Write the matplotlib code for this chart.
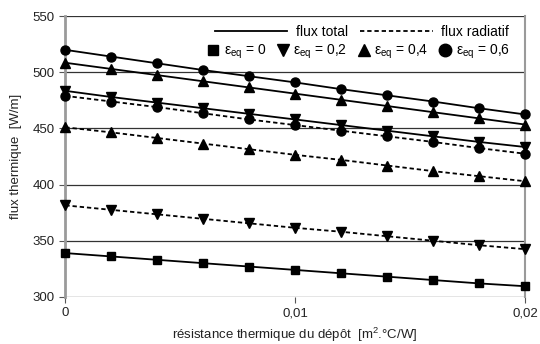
import matplotlib
matplotlib.use("Agg")
import matplotlib.pyplot as plt
from matplotlib.lines import Line2D

plt.rcParams["font.family"] = ["Liberation Sans", "DejaVu Sans"]
plt.rcParams["mathtext.fontset"] = "custom"
plt.rcParams["mathtext.rm"] = "Liberation Sans"
plt.rcParams["mathtext.it"] = "Liberation Sans:italic"

# deposit thermal resistance [m2.C/W]
resistance = [0.0, 0.002, 0.004, 0.006, 0.008, 0.010, 0.012, 0.014, 0.016, 0.018, 0.020]

# total flux (solid) per emissivity
total_e0 = [339, 336, 333, 330, 327, 324, 321, 318, 315, 312, 309.5]
total_e02 = [483.5, 478, 473, 468, 463, 458, 453, 448, 443, 438, 433.5]
total_e04 = [508.5, 503, 497.5, 492, 486.5, 481, 475.5, 470, 464.5, 459, 453.5]
total_e06 = [520, 514, 508, 502, 496.5, 491, 485, 479.5, 474, 468, 462.5]

# radiative flux (dashed)
rad_e02 = [381.5, 377.5, 373.5, 369.5, 365.5, 361.5, 358, 354, 350, 346, 342.5]
rad_e04 = [451, 446.5, 441.5, 436.5, 431.5, 426.5, 422, 417, 412, 407.5, 403]
rad_e06 = [479, 474, 469, 463.5, 458, 453, 448, 443, 438, 432.5, 427.5]

emissivity_labels = ["0", "0,2", "0,4", "0,6"]
xtick_values = [0, 0.01, 0.02]
xtick_labels = ["0", "0,01", "0,02"]
ytick_values = [300, 350, 400, 450, 500, 550]

fig = plt.figure(figsize=(5.4, 3.44), dpi=100)
ax = fig.add_axes([0.121, 0.137, 0.851, 0.816])

dash = (0, (2.4, 1.6))
series = [
    (total_e0, "-", "s", 6),
    (total_e02, "-", "v", 6.5),
    (total_e04, "-", "^", 6.5),
    (total_e06, "-", "o", 6.5),
    (rad_e02, dash, "v", 6.5),
    (rad_e04, dash, "^", 6.5),
    (rad_e06, dash, "o", 6.5),
]
for values, ls, mk, ms in series:
    ax.plot(resistance, values, color="black", linestyle=ls, lw=1.3,
            marker=mk, markersize=ms, clip_on=False, zorder=3)

ax.set_xlim(0, 0.02)
ax.set_ylim(300, 550)
ax.set_xticks(xtick_values)
ax.set_xticklabels(xtick_labels)
ax.set_yticks(ytick_values)
ax.yaxis.grid(True, color="#333333", lw=0.9)
ax.set_axisbelow(True)

for side in ["top", "bottom"]:
    ax.spines[side].set_visible(False)
ax.spines["left"].set_color("#9a9a9a")
ax.spines["left"].set_linewidth(2)
ax.spines["right"].set_color("#9a9a9a")
ax.spines["right"].set_linewidth(1.5)
ax.tick_params(axis="both", labelsize=9.5, color="#555555", length=4,
               labelcolor="#222222")

ax.set_xlabel("résistance thermique du dépôt  [m$^2$.°C/W]", fontsize=9.5,
              color="#222222", labelpad=5)
ax.set_ylabel("flux thermique  [W/m]", fontsize=9.5, color="#222222", labelpad=8)

style_handles = [
    Line2D([], [], color="black", lw=1.3, linestyle="-"),
    Line2D([], [], color="black", lw=1.3, linestyle=dash),
]
leg1 = ax.legend(style_handles, ["flux total", "flux radiatif"], ncol=2,
                 frameon=False, loc="upper right", bbox_to_anchor=(0.965, 0.968),
                 fontsize=10, handlelength=5.2, columnspacing=0.9,
                 handletextpad=0.6, borderpad=0, borderaxespad=0)
ax.add_artist(leg1)

marker_handles = [
    Line2D([], [], color="black", linestyle="none", marker=m, markersize=ms)
    for m, ms in [("s", 7), ("v", 8.5), ("^", 8.5), ("o", 9)]
]
marker_labels = ["ε$_{\\mathrm{eq}}$ = " + e for e in emissivity_labels]
ax.legend(marker_handles, marker_labels, ncol=4, frameon=False,
          loc="upper right", bbox_to_anchor=(0.967, 0.905), fontsize=10,
          handlelength=1.0, columnspacing=0.7, handletextpad=0.25,
          borderpad=0, borderaxespad=0)

fig.savefig("out.png", dpi=100)
